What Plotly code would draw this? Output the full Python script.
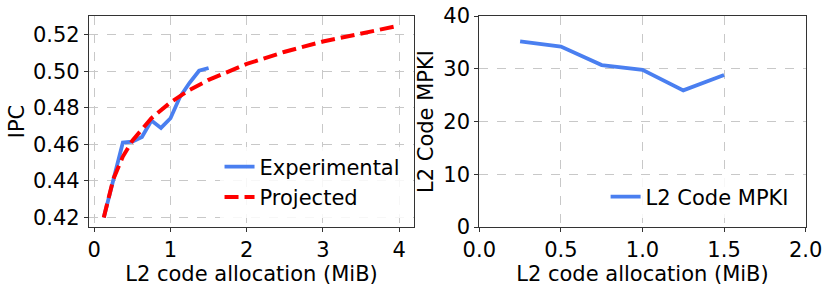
import plotly.graph_objects as go

# Left panel: IPC vs L2 code allocation
exp_x = [0.125, 0.25, 0.375, 0.5, 0.625, 0.75, 0.875, 1.0, 1.125, 1.25, 1.375, 1.5]
exp_ipc = [0.420, 0.441, 0.461, 0.4615, 0.464, 0.473, 0.469, 0.4743, 0.486, 0.4937, 0.5003, 0.5018]

proj_x = [0.125, 0.25, 0.375, 0.5, 0.75, 1.0, 1.25, 1.5, 2.0, 2.5, 3.0, 3.5, 4.0]
proj_ipc = [0.420, 0.441, 0.4533, 0.462, 0.4743, 0.483, 0.4898, 0.4953, 0.504, 0.5107, 0.5163, 0.5209, 0.525]

# Right panel: L2 code MPKI
mpki_x = [0.25, 0.5, 0.75, 1.0, 1.25, 1.5]
mpki = [35.2, 34.2, 30.7, 29.8, 25.9, 28.8]

left_ticks = [0.42, 0.44, 0.46, 0.48, 0.50, 0.52]
left_ticktext = ["0.42", "0.44", "0.46", "0.48", "0.50", "0.52"]
right_xticks = [0.0, 0.5, 1.0, 1.5, 2.0]
right_xticktext = ["0.0", "0.5", "1.0", "1.5", "2.0"]

BLUE = "#4a7ff0"
RED = "#ff0000"
FONT = "DejaVu Sans"
FS = 21

fig = go.Figure()
fig.add_trace(go.Scatter(x=exp_x, y=exp_ipc, mode="lines", name="Experimental",
                         line=dict(color=BLUE, width=3.8), xaxis="x", yaxis="y", legend="legend"))
fig.add_trace(go.Scatter(x=proj_x, y=proj_ipc, mode="lines", name="Projected",
                         line=dict(color=RED, width=4, dash="14px,6px"), xaxis="x", yaxis="y", legend="legend"))
fig.add_trace(go.Scatter(x=mpki_x, y=mpki, mode="lines", name="L2 Code MPKI",
                         line=dict(color=BLUE, width=3.8), xaxis="x2", yaxis="y2", legend="legend2"))

ydom = [0.2172, 0.9448]
axis_common = dict(showline=True, linecolor="#333333", linewidth=1.2, mirror=True,
                   ticks="outside", ticklen=4, tickcolor="#333333", automargin=False,
                   showgrid=True, gridcolor="#c8c8c8", griddash="dash", gridwidth=0.8,
                   zeroline=False, tickfont=dict(family=FONT, size=FS, color="black"))

fig.update_layout(
    width=831, height=290,
    margin=dict(l=0, r=0, t=0, b=0),
    paper_bgcolor="white", plot_bgcolor="white",
    font=dict(family=FONT, size=FS, color="black"),
    xaxis=dict(domain=[0.1071, 0.4982], range=[-0.069, 4.194], tickvals=[0, 1, 2, 3, 4],
               title=dict(text="L2 code allocation (MiB)", font=dict(family=FONT, size=FS), standoff=1),
               anchor="y", **axis_common),
    yaxis=dict(domain=ydom, range=[0.41475, 0.53025], tickvals=left_ticks, ticktext=left_ticktext,
               title=dict(text="IPC", font=dict(family=FONT, size=FS), standoff=2),
               anchor="x", **axis_common),
    xaxis2=dict(domain=[0.5768, 0.9695], range=[0, 2], tickvals=right_xticks, ticktext=right_xticktext,
                title=dict(text="L2 code allocation (MiB)", font=dict(family=FONT, size=FS), standoff=1),
                anchor="y2", **axis_common),
    yaxis2=dict(domain=ydom, range=[0, 40], tickvals=[0, 10, 20, 30, 40],
                title=dict(text="L2 Code MPKI", font=dict(family=FONT, size=FS), standoff=3),
                anchor="x2", **axis_common),
    legend=dict(x=0.488, y=0.25, xanchor="right", yanchor="bottom",
                bgcolor="rgba(255,255,255,0.85)", borderwidth=0,
                font=dict(family=FONT, size=FS), tracegroupgap=0),
    legend2=dict(x=0.955, y=0.25, xanchor="right", yanchor="bottom",
                 bgcolor="rgba(255,255,255,0.85)", borderwidth=0,
                 font=dict(family=FONT, size=FS)),
)

fig.write_html("out.html", config={"displayModeBar": False},
               post_script="document.body.style.margin='0';document.body.style.padding='0';")
